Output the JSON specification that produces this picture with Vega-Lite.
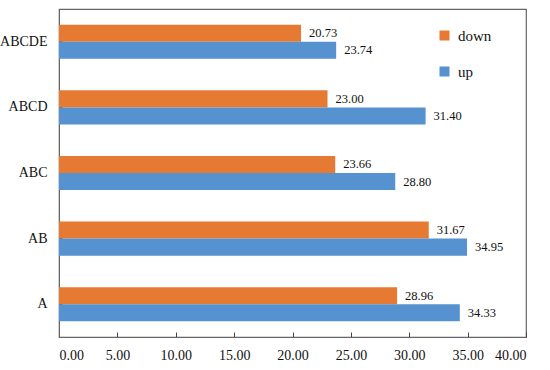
{
  "$schema": "https://vega.github.io/schema/vega-lite/v6.json",
  "autosize": "none",
  "width": 467,
  "height": 328,
  "padding": {"left": 59, "top": 9, "right": 24, "bottom": 33},
  "background": "white",
  "config": {
    "font": "Liberation Serif",
    "view": {"stroke": "#666666", "strokeWidth": 1.2}
  },
  "data": {
    "values": [
      {"cat": "A", "series": "down", "value": 28.96},
      {"cat": "A", "series": "up", "value": 34.33},
      {"cat": "AB", "series": "down", "value": 31.67},
      {"cat": "AB", "series": "up", "value": 34.95},
      {"cat": "ABC", "series": "down", "value": 23.66},
      {"cat": "ABC", "series": "up", "value": 28.80},
      {"cat": "ABCD", "series": "down", "value": 23.00},
      {"cat": "ABCD", "series": "up", "value": 31.40},
      {"cat": "ABCDE", "series": "down", "value": 20.73},
      {"cat": "ABCDE", "series": "up", "value": 23.74}
    ]
  },
  "encoding": {
    "y": {
      "field": "cat",
      "type": "nominal",
      "sort": ["ABCDE", "ABCD", "ABC", "AB", "A"],
      "scale": {"paddingInner": 0.48, "paddingOuter": 0.24},
      "axis": {
        "title": null,
        "labelFont": "Liberation Serif",
        "labelFontSize": 14,
        "labelColor": "#111111",
        "labelPadding": 15,
        "tickSize": -3,
        "tickColor": "#444444",
        "domainColor": "#666666",
        "labelAngle": 0
      }
    },
    "yOffset": {
      "field": "series",
      "type": "nominal",
      "sort": ["down", "up"]
    },
    "x": {
      "field": "value",
      "type": "quantitative",
      "scale": {"domain": [0, 40], "nice": false},
      "axis": {
        "title": null,
        "values": [0, 5, 10, 15, 20, 25, 30, 35, 40],
        "format": ".2f",
        "grid": false,
        "labelFont": "Liberation Serif",
        "labelFontSize": 14,
        "labelColor": "#111111",
        "labelPadding": 16,
        "tickSize": -5,
        "tickColor": "#444444",
        "domainColor": "#666666"
      }
    }
  },
  "layer": [
    {
      "mark": {"type": "bar"},
      "encoding": {
        "color": {
          "field": "series",
          "type": "nominal",
          "scale": {"domain": ["down", "up"], "range": ["#E67A32", "#5592CF"]},
          "legend": {
            "title": null,
            "orient": "none",
            "legendX": 378,
            "legendY": 19,
            "symbolType": "square",
            "symbolSize": 100,
            "symbolStrokeWidth": 0,
            "labelFont": "Liberation Serif",
            "labelFontSize": 15,
            "labelColor": "#111111",
            "rowPadding": 20,
            "labelOffset": 6
          }
        }
      }
    },
    {
      "mark": {"type": "text", "align": "left", "baseline": "middle", "dx": 8, "fontSize": 12.5, "font": "Liberation Serif", "color": "#111111"},
      "encoding": {
        "text": {"field": "value", "type": "quantitative", "format": ".2f"}
      }
    }
  ]
}
